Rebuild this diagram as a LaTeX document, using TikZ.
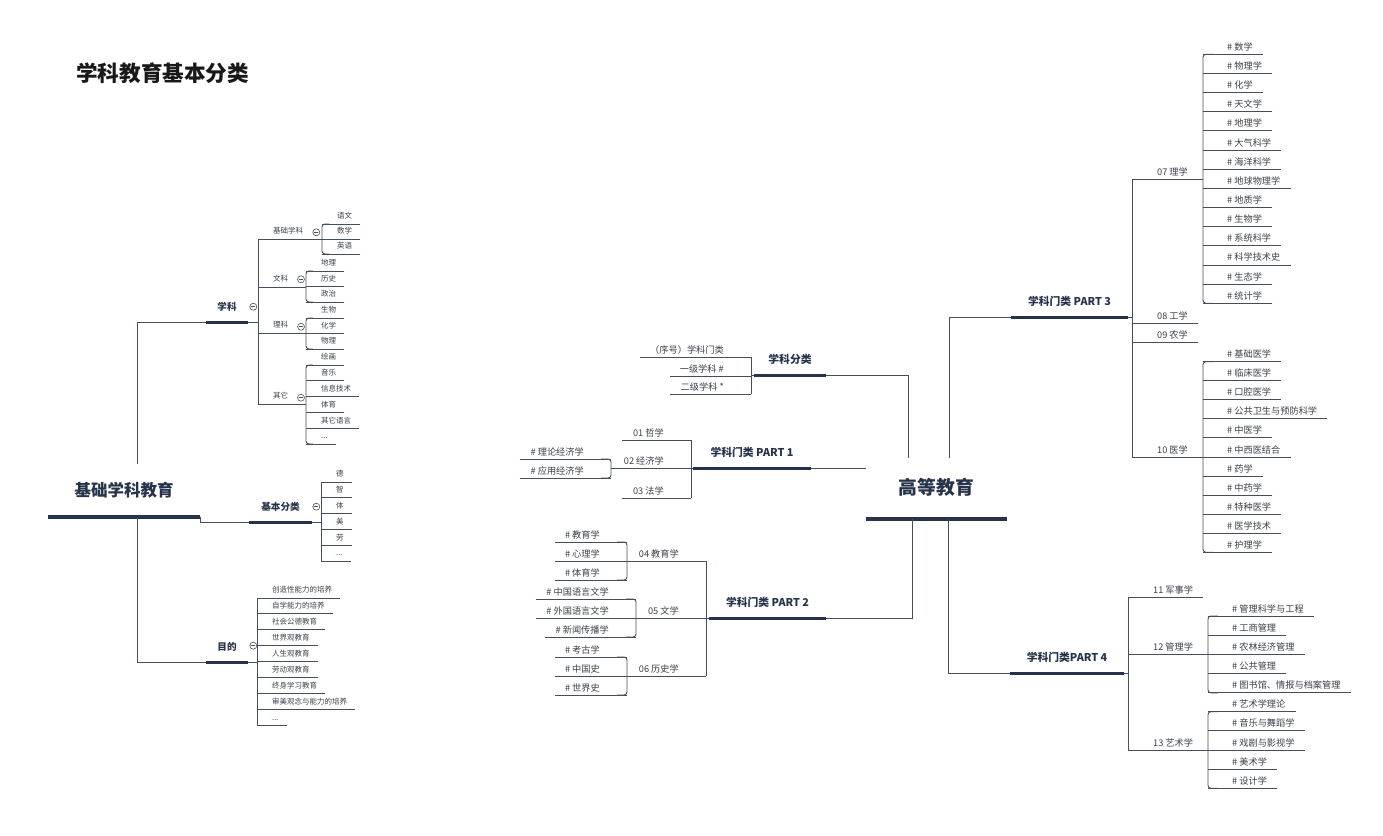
\documentclass[tikz,border=0pt]{standalone}
\usepackage{fontspec}
\setmainfont{Noto Sans CJK SC}

\definecolor{ink}{HTML}{26334A}
\definecolor{lncol}{HTML}{454E5B}
\definecolor{txt}{HTML}{3A3F47}

\newcommand\ellip{...}

\tikzset{
	ln/.style={draw=lncol, line width=.9pt},
	bar/.style={draw=ink, line width=3pt},
	ul/.style 2 args={append after command={([xshift=-#1]\tikzlastnode.south west) edge[ln] ([xshift=#2]\tikzlastnode.south east)}},
	bul/.style={append after command={(\tikzlastnode.south west) edge[bar, line width=#1] (\tikzlastnode.south east)}},
	cjk/.style={text height=.88em, text depth=.12em, inner xsep=0pt},
	% left map
	lsmall/.style={cjk, inner ysep=3.8pt, text=txt, font=\fontsize{7.5}{9}\selectfont},
	lleaf/.style={lsmall, anchor=south west, ul={15pt}{8pt}},
	lbranch/.style={branch=#1, font=\fontsize{9.6}{11}\bfseries},
	% right map
	rsmall/.style={cjk, inner ysep=2.6pt, text=txt, font=\fontsize{9.2}{11}\selectfont},
	rleaf/.style={rsmall, anchor=south west, ul={24pt}{10pt}},
	lfleaf/.style={rsmall, anchor=south east, ul={10pt}{27pt}},
	rmid/.style={rsmall, anchor=south west, ul={25pt}{10pt}},
	lfmid/.style={rsmall, anchor=south east, ul={11pt}{27pt}},
	branch/.style={cjk, anchor=south, text=ink, inner ysep=9.8pt, minimum width=#1, font=\fontsize{10.8}{12}\bfseries, bul=3pt},
	root/.style={text height=1.25em, text depth=.05em, inner xsep=0pt, anchor=south, text=ink, inner ysep=0pt, minimum width=#1, bul=4.5pt},
	fold/.style={circle, draw=lncol, line width=.6pt, fill=white, minimum size=7pt, inner sep=0pt,
		path picture={\draw[lncol, line width=.5pt] ([xshift=1.6pt]path picture bounding box.west) -- ([xshift=-1.6pt]path picture bounding box.east);}},
}

\begin{document}
\begin{tikzpicture}[x=1pt, y=-1pt]
	\useasboundingbox (0,0) rectangle (1383,835);

	\node[anchor=west, inner sep=0pt, font=\fontsize{21.6}{24}\bfseries, text=black!90] (title) at (76,73.5) {学科教育基本分类};

	% ---------- 基础学科教育 ----------
	\node[root=152pt, minimum height=53pt, font=\fontsize{16.5}{18}\bfseries] (jcjy) at (124,517) {基础学科教育};
	\node[lbranch=42pt] (xk)   at (227,322)   {学科};
	\node[lbranch=63pt] (jbfl) at (280.5,522) {基本分类};
	\node[lbranch=42pt] (md)   at (227,662)   {目的};
	\draw[ln] (xk.south west) -| ([xshift=13pt]jcjy.north);
	\draw[ln] (md.south west) -| ([xshift=13pt]jcjy.south);
	\draw[ln] (jcjy.south east) |- (jbfl.south west);

	% 学科
	\coordinate (jxk) at (258,322);
	\node[lleaf] (jc) at (273,239) {基础学科};
	\node[lleaf] (wk) at (273,287) {文科};
	\node[lleaf] (lk) at (273,333) {理科};
	\node[lleaf] (qt) at (273,404) {其它};
	\draw[ln] (xk.south east) -- (jxk);
	\draw[ln] (jxk |- jc.south) -- (jxk |- qt.south);

	\coordinate (bjc) at (322,239);
	\foreach \t [count=\i] in {语文,数学,英语}
		\node[lleaf] (jc\i) at (337,209+15*\i) {\t};
	\draw[ln, rounded corners=3pt] ([xshift=-8pt]jc1.south west) -| (bjc |- jc3.south) -- ([xshift=-8pt]jc3.south west);
	\draw[ln] (jc.south east) -- (bjc);

	\coordinate (bwk) at (306,287);
	\foreach \t [count=\i] in {地理,历史,政治}
		\node[lleaf] (wk\i) at (321,255.5+15.5*\i) {\t};
	\draw[ln, rounded corners=3pt] ([xshift=-8pt]wk1.south west) -| (bwk |- wk3.south) -- ([xshift=-8pt]wk3.south west);
	\draw[ln] (wk.south east) -- (bwk);

	\coordinate (blk) at (306,333);
	\foreach \t [count=\i] in {生物,化学,物理}
		\node[lleaf] (lk\i) at (321,302.5+15.5*\i) {\t};
	\draw[ln, rounded corners=3pt] ([xshift=-8pt]lk1.south west) -| (blk |- lk3.south) -- ([xshift=-8pt]lk3.south west);
	\draw[ln] (lk.south east) -- (blk);

	\coordinate (bqt) at (306,404);
	\foreach \t [count=\i] in {绘画,音乐,信息技术,体育,其它语言,\ellip}
		\node[lleaf] (qt\i) at (321,349.2+15.8*\i) {\t};
	\draw[ln, rounded corners=3pt] ([xshift=-8pt]qt1.south west) -| (bqt |- qt6.south) -- ([xshift=-8pt]qt6.south west);
	\draw[ln] (qt.south east) -- (bqt);

	% 基本分类
	\coordinate (bjb) at (321,522);
	\foreach \t [count=\i] in {德,智,体,美,劳,\ellip}
		\node[lleaf] (jb\i) at (336,466.2+15.8*\i) {\t};
	\draw[ln] (bjb |- jb1.south) -- (bjb |- jb6.south);
	\draw[ln] (jbfl.south east) -- (bjb);

	% 目的
	\coordinate (bmd) at (257,662);
	\foreach \t [count=\i] in {创造性能力的培养,自学能力的培养,社会公德教育,世界观教育,人生观教育,劳动观教育,终身学习教育,审美观念与能力的培养,\ellip}
		\node[lleaf] (md\i) at (272,582.1+15.9*\i) {\t};
	\draw[ln] (bmd |- md1.south) -- (bmd |- md9.south);
	\draw[ln] (md.south east) -- (bmd);

	\node[fold] (fxk) at (253.3,306.7) {};
	\node[fold] (fjc) at (316.3,232.3) {};
	\node[fold] (fwk) at (301,279.3)   {};
	\node[fold] (flk) at (301,326.7)   {};
	\node[fold] (fqt) at (301,397.7)   {};
	\node[fold] (fjb) at (316.3,506.7) {};
	\node[fold] (fmd) at (253.3,645.7) {};

	% ---------- 高等教育 ----------
	\node[root=141pt, minimum height=61pt, font=\fontsize{18.8}{20}\bfseries] (gdjy) at (936.5,519) {高等教育};
	\node[branch=72pt]  (xkfl) at (790,375)    {学科分类};
	\node[branch=118pt] (p1)   at (752,468)    {学科门类 PART 1};
	\node[branch=117pt] (p2)   at (767.5,618)  {学科门类 PART 2};
	\node[branch=117pt] (p3)   at (1069.5,317) {学科门类 PART 3};
	\node[branch=114pt] (p4)   at (1067,673)   {学科门类PART 4};
	\draw[ln] (xkfl.south east) -| ([xshift=-28.5pt]gdjy.north);
	\draw[ln] (p1.south east) -- (p1.south east -| gdjy.west);
	\draw[ln] (p2.south east) -| ([xshift=-24.5pt]gdjy.south);
	\draw[ln] (p3.south west) -| ([xshift=12.5pt]gdjy.north);
	\draw[ln] (p4.south west) -| ([xshift=11.5pt]gdjy.south);

	% 学科分类
	\coordinate (bfl) at (751,375);
	\node[lfleaf] (fl1) at (724,357) {（序号）学科门类};
	\node[lfleaf] (fl2) at (724,376) {一级学科 \#};
	\node[lfleaf] (fl3) at (724,394) {二级学科 *};
	\draw[ln] (bfl |- fl1.south) -- (bfl |- fl3.south);
	\draw[ln] (xkfl.south west) -- (bfl);

	% PART 1
	\coordinate (bp1) at (691,468);
	\node[lfmid] (zx) at (664,440) {01 哲学};
	\node[lfmid] (jj) at (664,468) {02 经济学};
	\node[lfmid] (fx) at (664,498) {03 法学};
	\draw[ln] (bp1 |- zx.south) -- (bp1 |- fx.south);
	\draw[ln] (p1.south west) -- (bp1);

	\coordinate (bjj) at (611,468);
	\node[lfleaf] (jj1) at (584,459) {\# 理论经济学};
	\node[lfleaf] (jj2) at (584,478) {\# 应用经济学};
	\draw[ln, rounded corners=3pt] ([xshift=17pt]jj1.south east) -| (bjj |- jj2.south) -- ([xshift=17pt]jj2.south east);
	\draw[ln] (jj.south west) -- (bjj);

	% PART 2
	\coordinate (bp2) at (706,618);
	\node[lfmid] (jy) at (679,561) {04 教育学};
	\node[lfmid] (wx) at (679,618) {05 文学};
	\node[lfmid] (ls) at (679,676) {06 历史学};
	\draw[ln] (bp2 |- jy.south) -- (bp2 |- ls.south);
	\draw[ln] (p2.south west) -- (bp2);

	\coordinate (bjy) at (627,561);
	\foreach \t [count=\i] in {教育学,心理学,体育学}
		\node[lfleaf] (jy\i) at (600,523+19*\i) {\# \t};
	\draw[ln, rounded corners=3pt] ([xshift=17pt]jy1.south east) -| (bjy |- jy3.south) -- ([xshift=17pt]jy3.south east);
	\draw[ln] (jy.south west) -- (bjy);

	\coordinate (bwx) at (636,618);
	\foreach \t [count=\i] in {中国语言文学,外国语言文学,新闻传播学}
		\node[lfleaf] (wx\i) at (609,580+19*\i) {\# \t};
	\draw[ln, rounded corners=3pt] ([xshift=17pt]wx1.south east) -| (bwx |- wx3.south) -- ([xshift=17pt]wx3.south east);
	\draw[ln] (wx.south west) -- (bwx);

	\coordinate (bls) at (627,676);
	\foreach \t [count=\i] in {考古学,中国史,世界史}
		\node[lfleaf] (ls\i) at (600,638+19*\i) {\# \t};
	\draw[ln, rounded corners=3pt] ([xshift=17pt]ls1.south east) -| (bls |- ls3.south) -- ([xshift=17pt]ls3.south east);
	\draw[ln] (ls.south west) -- (bls);

	% PART 3
	\coordinate (j3) at (1132,317);
	\node[rmid] (lx) at (1157,179) {07 理学};
	\node[rmid] (gx) at (1157,323) {08 工学};
	\node[rmid] (nx) at (1157,342) {09 农学};
	\node[rmid] (yx) at (1157,457) {10 医学};
	\draw[ln] (p3.south east) -- (j3);
	\draw[ln] (j3 |- lx.south) -- (j3 |- yx.south);

	\coordinate (blx) at (1203,179);
	\foreach \t [count=\i] in {数学,物理学,化学,天文学,地理学,大气科学,海洋科学,地球物理学,地质学,生物学,系统科学,科学技术史,生态学,统计学}
		\node[rleaf] (lx\i) at (1227,35.15+19.15*\i) {\# \t};
	\draw[ln, rounded corners=3pt] ([xshift=-14pt]lx1.south west) -| (blx |- lx14.south) -- ([xshift=-14pt]lx14.south west);
	\draw[ln] (lx.south east) -- (blx);

	\coordinate (byx) at (1203,457);
	\foreach \t [count=\i] in {基础医学,临床医学,口腔医学,公共卫生与预防科学,中医学,中西医结合,药学,中药学,特种医学,医学技术,护理学}
		\node[rleaf] (yx\i) at (1227,342.64+19.06*\i) {\# \t};
	\draw[ln, rounded corners=3pt] ([xshift=-14pt]yx1.south west) -| (byx |- yx11.south) -- ([xshift=-14pt]yx11.south west);
	\draw[ln] (yx.south east) -- (byx);

	% PART 4
	\coordinate (j4) at (1128,673);
	\node[rmid] (js) at (1153,597) {11 军事学};
	\node[rmid] (gl) at (1153,654) {12 管理学};
	\node[rmid] (ys) at (1153,750) {13 艺术学};
	\draw[ln] (p4.south east) -- (j4);
	\draw[ln] (j4 |- js.south) -- (j4 |- ys.south);

	\coordinate (bgl) at (1208,654);
	\foreach \t [count=\i] in {管理科学与工程,工商管理,农林经济管理,公共管理,图书馆、情报与档案管理}
		\node[rleaf] (gl\i) at (1232,596.8+19.2*\i) {\# \t};
	\draw[ln, rounded corners=3pt] ([xshift=-14pt]gl1.south west) -| (bgl |- gl5.south) -- ([xshift=-14pt]gl5.south west);
	\draw[ln] (gl.south east) -- (bgl);

	\coordinate (bys) at (1208,750);
	\foreach \t [count=\i] in {艺术学理论,音乐与舞蹈学,戏剧与影视学,美术学,设计学}
		\node[rleaf] (ys\i) at (1232,692.55+19.15*\i) {\# \t};
	\draw[ln, rounded corners=3pt] ([xshift=-14pt]ys1.south west) -| (bys |- ys5.south) -- ([xshift=-14pt]ys5.south west);
	\draw[ln] (ys.south east) -- (bys);
\end{tikzpicture}
\end{document}
